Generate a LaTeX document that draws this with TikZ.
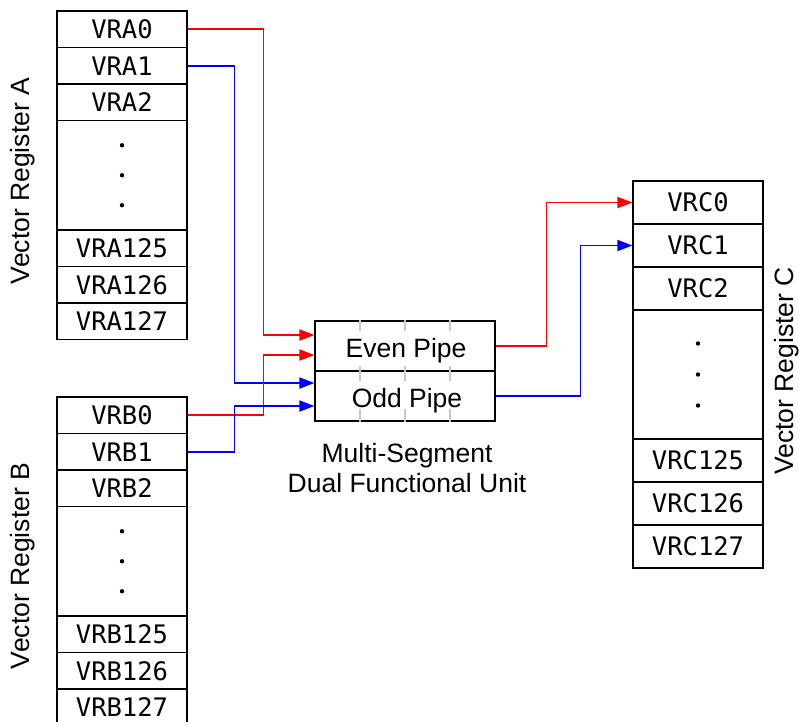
\documentclass[tikz,border=0pt]{standalone}
\usepackage{fontspec}
\setmainfont{Liberation Sans}
\newfontfamily\monof{DejaVu Sans Mono}
\usetikzlibrary{arrows.meta}
\definecolor{tickgray}{RGB}{200,200,200}
\definecolor{wirered}{RGB}{255,0,0}
\definecolor{wireblue}{RGB}{0,0,255}
\tikzset{
  reg/.style={draw=black, line width=1.2pt, minimum width=130pt, inner sep=0pt, font=\monof\fontsize{25.5}{30}\selectfont},
  rowA/.style={reg, minimum height=36.5pt},
  rowC/.style={reg, minimum height=43pt},
  pipe/.style={draw=black, line width=1.2pt, minimum width=180pt, minimum height=50pt, inner sep=0pt},
  lbl/.style={font=\fontsize{26.5}{30}\selectfont, align=center, inner sep=0pt},
  conn/.style={line width=1.7pt, -{Triangle[length=15pt,width=11pt]}},
  tick/.style={draw=tickgray, line width=1.2pt},
  dotf/.style={fill=black}
}
\begin{document}
\begin{tikzpicture}[x=1pt,y=-1pt]
\useasboundingbox (0,0) rectangle (799,721);
\clip (0,0) rectangle (799,721);

% Register A
\node[rowA] (A0) at (122,29.25) {VRA0};
\node[rowA] (A1) at (122,65.75) {VRA1};
\node[rowA] (A2) at (122,102.25) {VRA2};
\node[reg, minimum height=109.5pt] (Ad) at (122,175.25) {};
\node[rowA] (A125) at (122,248.25) {VRA125};
\node[rowA] (A126) at (122,284.75) {VRA126};
\node[rowA] (A127) at (122,321.25) {VRA127};
\fill[dotf] ([yshift=30pt]Ad.center) circle (2.2);
\fill[dotf] (Ad.center) circle (2.2);
\fill[dotf] ([yshift=-30pt]Ad.center) circle (2.2);

% Register B
\node[rowA] (B0) at (122,415.25) {VRB0};
\node[rowA] (B1) at (122,451.75) {VRB1};
\node[rowA] (B2) at (122,488.25) {VRB2};
\node[reg, minimum height=109.5pt] (Bd) at (122,561.25) {};
\node[rowA] (B125) at (122,634.25) {VRB125};
\node[rowA] (B126) at (122,670.75) {VRB126};
\node[rowA] (B127) at (122,707.25) {VRB127};
\fill[dotf] ([yshift=30pt]Bd.center) circle (2.2);
\fill[dotf] (Bd.center) circle (2.2);
\fill[dotf] ([yshift=-30pt]Bd.center) circle (2.2);

% Register C
\node[rowC] (C0) at (698,202.5) {VRC0};
\node[rowC] (C1) at (698,245.5) {VRC1};
\node[rowC] (C2) at (698,288.5) {VRC2};
\node[reg, minimum height=129pt] (Cd) at (698,374.5) {};
\node[rowC] (C125) at (698,460.5) {VRC125};
\node[rowC] (C126) at (698,503.5) {VRC126};
\node[rowC] (C127) at (698,546.5) {VRC127};
\fill[dotf] ([yshift=31pt]Cd.center) circle (2.2);
\fill[dotf] (Cd.center) circle (2.2);
\fill[dotf] ([yshift=-31pt]Cd.center) circle (2.2);

% Labels
\node[lbl, rotate=90] (LA) at (23,181) {Vector Register A};
\node[lbl, rotate=90] (LB) at (23,566) {Vector Register B};
\node[lbl, rotate=90] (LC) at (787,371) {Vector Register C};

% Functional unit
\node[pipe] (even) at (405,346) {};
\node[pipe] (odd) at (405,396) {};
\foreach \dx in {-45,0,45}{
  \draw[tick] ([xshift=\dx pt]even.north) -- ++(0,11);
  \draw[tick] ([xshift=\dx pt]even.south) -- ++(0,-6);
  \draw[tick] ([xshift=\dx pt]odd.north) -- ++(0,11);
  \draw[tick] ([xshift=\dx pt]odd.south) -- ++(0,-13);
}
\node[lbl, anchor=base] (evenT) at (406,357) {Even Pipe};
\node[lbl, anchor=base] (oddT) at (407,407.5) {Odd Pipe};
\node[lbl] (unitT) at (407,468) {Multi-Segment\\Dual Functional Unit};

% Connectors
\draw[conn, wirered] (A0.east) -- ++(76,0) |- ([yshift=11pt]even.west);
\draw[conn, wireblue] (A1.east) -- ++(47,0) |- ([yshift=13pt]odd.west);
\draw[conn, wirered] (B0.east) -- ++(76,0) |- ([yshift=-9pt]even.west);
\draw[conn, wireblue] (B1.east) -- ++(47,0) |- ([yshift=-10pt]odd.west);
\draw[conn, wirered] (even.east) -- ++(51,0) |- (C0.west);
\draw[conn, wireblue] (odd.east) -- ++(85,0) |- (C1.west);
\end{tikzpicture}
\end{document}
